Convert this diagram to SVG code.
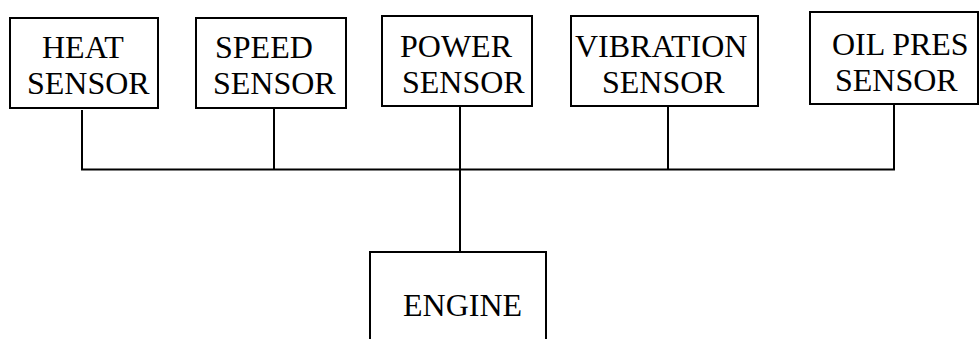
<svg xmlns="http://www.w3.org/2000/svg" width="979" height="339" viewBox="0 0 979 339">
<style>
.box{fill:#fff;stroke:#000;stroke-width:2}
.ln{fill:none;stroke:#000;stroke-width:2}
text{font-family:"Liberation Serif","Times New Roman",serif;font-size:32px;fill:#000}
</style>
<rect width="979" height="339" fill="#fff"/>
<g id="connectors">
<path class="ln" d="M82,110 V169.5 H894 V104"/>
<path class="ln" d="M274,108 V169.5"/>
<path class="ln" d="M668,106 V169.5"/>
<path class="ln" d="M460,106 V256"/>
</g>
<g id="heat"><rect class="box" x="10" y="18" width="148" height="90"/><text x="42" y="58">HEAT</text><text x="27" y="94">SENSOR</text></g>
<g id="speed"><rect class="box" x="196" y="18" width="150" height="90"/><text x="215" y="58">SPEED</text><text x="213" y="94">SENSOR</text></g>
<g id="power"><rect class="box" x="382" y="16" width="150" height="90"/><text x="400" y="57">POWER</text><text x="402" y="93">SENSOR</text></g>
<g id="vibration"><rect class="box" x="571" y="16" width="187" height="90"/><text x="575" y="57">VIBRATION</text><text x="602" y="93">SENSOR</text></g>
<g id="oilpres"><rect class="box" x="810" y="12" width="168" height="92"/><text x="832" y="55">OIL PRES</text><text x="835" y="91">SENSOR</text></g>
<g id="engine"><rect class="box" x="370" y="252" width="176" height="100"/><text x="403" y="316">ENGINE</text></g>
</svg>
